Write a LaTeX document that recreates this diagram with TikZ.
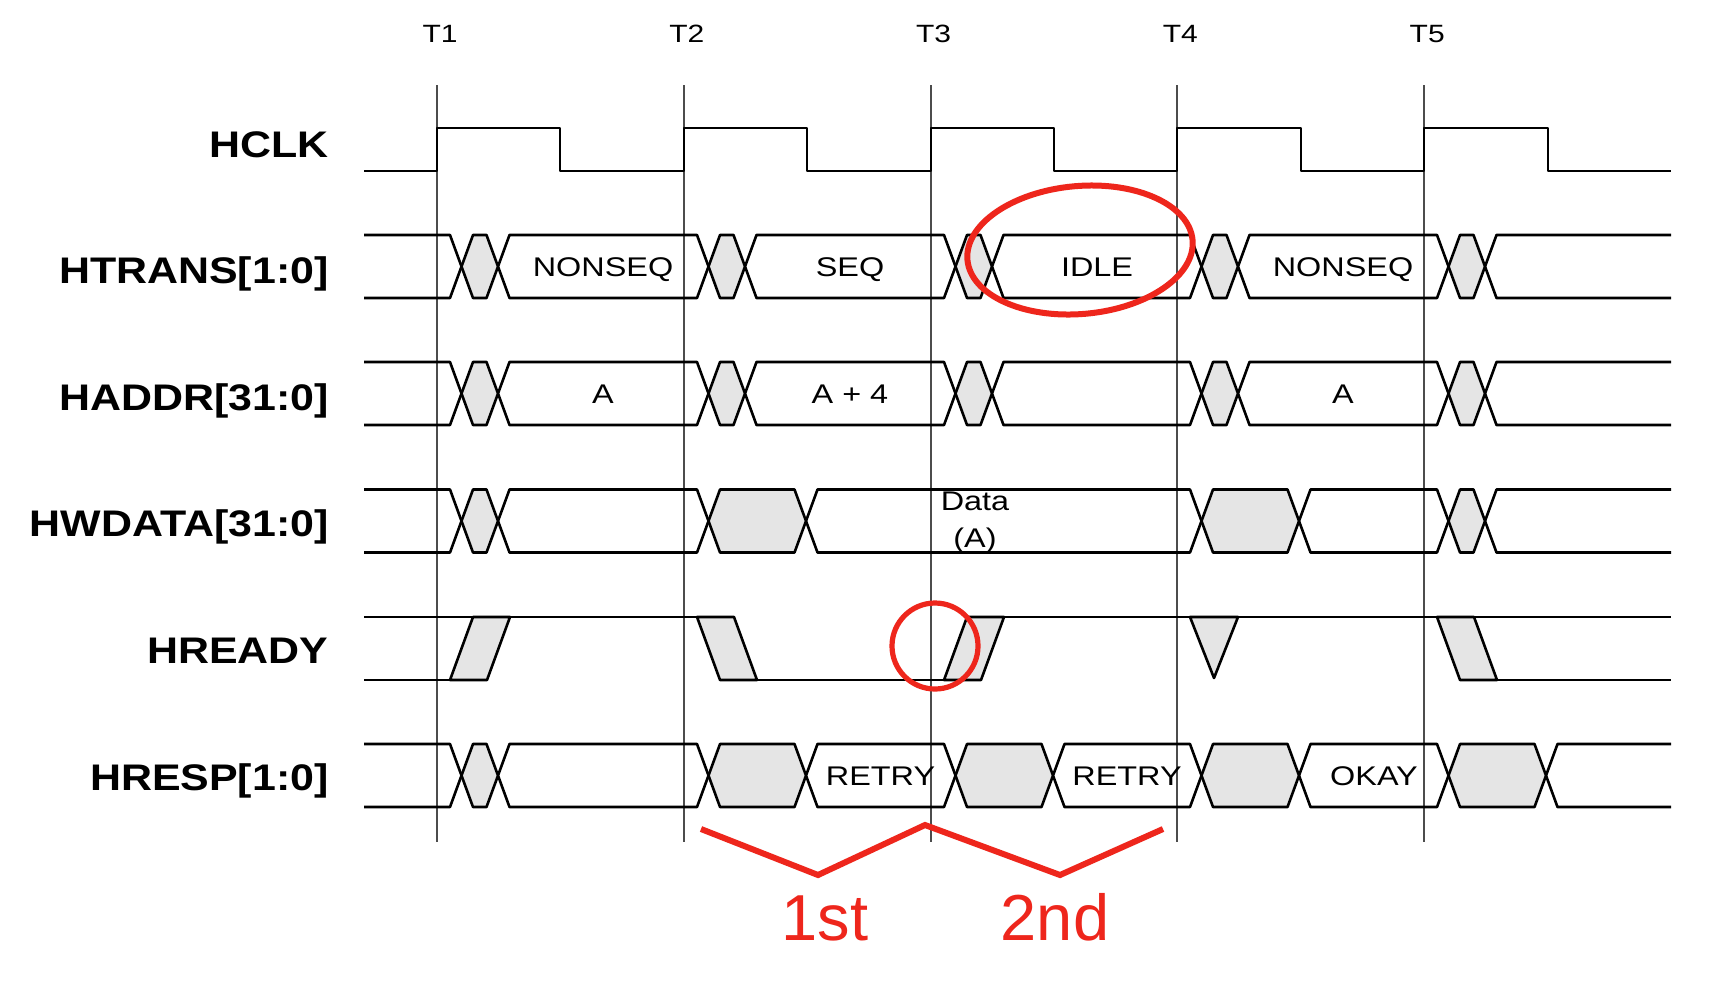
\documentclass[tikz,border=0pt]{standalone}
\usepackage{fontspec}
\setmainfont{Liberation Sans}
\usepackage{xcolor}
\usepackage{tikz}
\usetikzlibrary{positioning}
\definecolor{cellgray}{gray}{0.9}
\definecolor{markred}{RGB}{238,38,28}

\begin{document}
\begin{tikzpicture}[x=0.5pt,y=-0.5pt,node distance=63.3pt,on grid,
      wave/.style={line width=1.3pt, line join=round},
      gcell/.style={wave, fill=cellgray},
      tick/.style={line width=0.7pt, black!70},
      sig/.style={font=\fontsize{18.5}{22}\selectfont\bfseries, xscale=1.16, anchor=base east, inner sep=0pt},
      tlab/.style={font=\fontsize{12.5}{15}\selectfont, xscale=1.2, anchor=base, inner sep=0pt},
      val/.style={font=\fontsize{13.5}{18.5}\selectfont, xscale=1.2, anchor=base, inner sep=0pt, align=center},
      redmark/.style={draw=markred, line width=3pt},
      note/.style={font=\fontsize{32.5}{36}\selectfont, text=markred, anchor=base, inner sep=0pt}]

      \fill[white] (0,0) rectangle (1728,986);
      \useasboundingbox (0,0) rectangle (1728,986);

      % clock edges
      \node[tlab] (t1) at (440,42) {T1};
      \node[] (t2) [right=123.4pt of t1.base, tlab] {T2};
      \node[] (t3) [right=123.4pt of t2.base, tlab] {T3};
      \node[] (t4) [right=123.4pt of t3.base, tlab] {T4};
      \node[] (t5) [right=123.4pt of t4.base, tlab] {T5};

      \draw[tick] (437,85) -- (437,842);
      \draw[tick] (684,85) -- (684,842);
      \draw[tick] (931,85) -- (931,842);
      \draw[tick] (1177,85) -- (1177,842);
      \draw[tick] (1424,85) -- (1424,842);

      % signal names
      \node[sig] (hclk) at (329,157) {HCLK};
      \node[] (htrans) [below=of hclk.base east, sig] {HTRANS[1:0]};
      \node[] (haddr) [below=of htrans.base east, sig] {HADDR[31:0]};
      \node[] (hwdata) [below=of haddr.base east, sig] {HWDATA[31:0]};
      \node[] (hready) [below=of hwdata.base east, sig] {HREADY};
      \node[] (hresp) [below=of hready.base east, sig] {HRESP[1:0]};

      % HCLK
      \draw[wave] (364,171) -| (437,128) -| (560,171) -| (684,128) -| (807,171) -| (931,128)
        -| (1054,171) -| (1177,128) -| (1301,171) -| (1424,128) -| (1548,171) -- (1671,171);

      % HTRANS and HADDR
      \foreach \a/\m/\b in {235/266.5/298, 362/393.5/425} {
        \draw[wave] (364,\a) -- (450,\a) -- (461.5,\m) -- (450,\b) -- (364,\b);
        \foreach \l/\r in {461.5/498, 708.5/745, 955.5/992, 1201.5/1238, 1448.5/1485}
          \filldraw[gcell] (\l,\m) -- ({\l+11.5},\a) -- ({\r-11.5},\a) -- (\r,\m) -- ({\r-11.5},\b) -- ({\l+11.5},\b) -- cycle;
        \foreach \l/\r in {498/708.5, 745/955.5, 992/1201.5, 1238/1448.5}
          \draw[wave] (\l,\m) -- ({\l+11.5},\a) -- ({\r-11.5},\a) -- (\r,\m) -- ({\r-11.5},\b) -- ({\l+11.5},\b) -- cycle;
        \draw[wave] (1671,\a) -- (1496.5,\a) -- (1485,\m) -- (1496.5,\b) -- (1671,\b);
      }

      % HWDATA
      \draw[wave] (364,489.5) -- (450,489.5) -- (461.5,521) -- (450,552.5) -- (364,552.5);
      \foreach \l/\r in {461.5/498, 708.5/806, 1201.5/1299, 1448.5/1485}
        \filldraw[gcell] (\l,521) -- ({\l+11.5},489.5) -- ({\r-11.5},489.5) -- (\r,521) -- ({\r-11.5},552.5) -- ({\l+11.5},552.5) -- cycle;
      \foreach \l/\r in {498/708.5, 806/1201.5, 1299/1448.5}
        \draw[wave] (\l,521) -- ({\l+11.5},489.5) -- ({\r-11.5},489.5) -- (\r,521) -- ({\r-11.5},552.5) -- ({\l+11.5},552.5) -- cycle;
      \draw[wave] (1671,489.5) -- (1496.5,489.5) -- (1485,521) -- (1496.5,552.5) -- (1671,552.5);

      % HREADY
      \draw[wave] (364,617) -- (734,617) (364,680) -- (487,680) (720,680) -- (981,680)
        (967,617) -- (1671,617) (1460,680) -- (1671,680);
      \filldraw[gcell] (450,680) -- (473,617) -- (510,617) -- (487,680) -- cycle;
      \filldraw[gcell] (697,617) -- (734,617) -- (757,680) -- (720,680) -- cycle;
      \filldraw[gcell] (944,680) -- (967,617) -- (1004,617) -- (981,680) -- cycle;
      \filldraw[gcell] (1190,617) -- (1238,617) -- (1214,678) -- cycle;
      \filldraw[gcell] (1437,617) -- (1474,617) -- (1497,680) -- (1460,680) -- cycle;

      % HRESP
      \draw[wave] (364,744) -- (450,744) -- (461.5,775.5) -- (450,807) -- (364,807);
      \foreach \l/\r in {461.5/498, 708.5/806, 955.5/1053, 1201.5/1299}
        \filldraw[gcell] (\l,775.5) -- ({\l+11.5},744) -- ({\r-11.5},744) -- (\r,775.5) -- ({\r-11.5},807) -- ({\l+11.5},807) -- cycle;
      \filldraw[gcell] (1448.5,775.5) -- (1460,744) -- (1534.5,744) -- (1546,775.5) -- (1534.5,807) -- (1460,807) -- cycle;
      \foreach \l/\r in {498/708.5, 806/955.5, 1053/1201.5, 1299/1448.5}
        \draw[wave] (\l,775.5) -- ({\l+11.5},744) -- ({\r-11.5},744) -- (\r,775.5) -- ({\r-11.5},807) -- ({\l+11.5},807) -- cycle;
      \draw[wave] (1671,744) -- (1557.5,744) -- (1546,775.5) -- (1557.5,807) -- (1671,807);

      % values
      \node[val] (nonseq0) at (603,276) {NONSEQ};
      \node[val] (seq0) at (850,276) {SEQ};
      \node[val] (idle0) at (1097,276) {IDLE};
      \node[val] (nonseq1) at (1343,276) {NONSEQ};
      \node[val] (a0) at (603,403) {A};
      \node[val] (a4) at (850,403) {A + 4};
      \node[val] (a1) at (1343,403) {A};
      \node[val, anchor=center] (data0) at (975,522) {Data\\(A)};
      \node[val] (retry0) at (880.5,785) {RETRY};
      \node[val] (retry1) at (1127,785) {RETRY};
      \node[val] (okay0) at (1374,785) {OKAY};

      % annotations
      \draw[redmark, rotate around={5:(1080,250)}] (1080,250) ellipse [x radius=56.5pt, y radius=32pt];
      \draw[redmark, line width=2.6pt] (935,646) circle [radius=21.5pt];
      \draw[redmark] (701,829) -- (818,875) -- (925,825) -- (1060,875) -- (1163,829);
      \node[note] (first) at (825,940) {1st};
      \node[note] (second) at (1055,940) {2nd};

    \end{tikzpicture}
\end{document}
